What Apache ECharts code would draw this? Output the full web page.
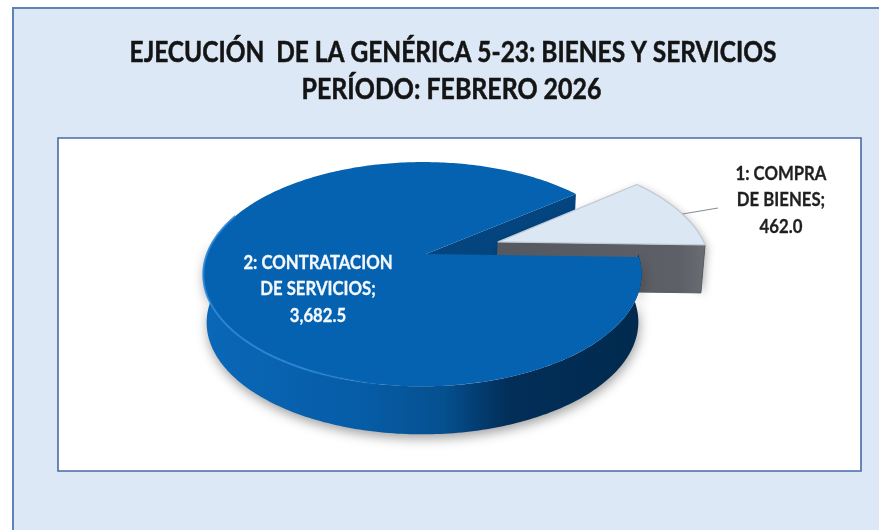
<!DOCTYPE html>
<html><head><meta charset="utf-8">
<style>html,body{margin:0;padding:0;background:#fff}#c{width:879px;height:530px}</style>
<script src="https://cdn.jsdelivr.net/npm/echarts@6/dist/echarts.min.js"></script>
</head><body><div id="c"></div>
<script>
const titleLines = ['EJECUCIÓN  DE LA GENÉRICA 5-23: BIENES Y SERVICIOS', 'PERÍODO: FEBRERO 2026'];
const categoryLines = [['1: COMPRA', 'DE BIENES;'], ['2: CONTRATACION', 'DE SERVICIOS;']];
const values = [462.0, 3682.5];

const total = values.reduce((a, b) => a + b, 0);
const START = 1.6 * Math.PI / 180;                 // blue slice starts here, clockwise
const blueSweep = values[1] / total * 2 * Math.PI;
const greySweep = values[0] / total * 2 * Math.PI;
const blueA = [START, START + blueSweep];
const greyA = [START - greySweep, START];
const greyMid = (greyA[0] + greyA[1]) / 2;
const EXPLODE = 0.362;
const ex = [EXPLODE * Math.cos(greyMid), EXPLODE * Math.sin(greyMid)];

// perspective projection of the unit disc on screen
const CX = 426, CY = 254, RX = 215.5, RY = 108.5, K = 0.18, M = -0.016, DEPTH = 48, SHRINK = 0.985;
function proj(u, v, low) {
  const w = 1 - K * v - M * u;
  const x = CX + RX * u / w, y = CY + RY * v / w;
  return low ? [CX + (x - CX) * SHRINK, y + DEPTH] : [x, y];
}
function arc(a0, a1, off, low) {
  const n = Math.max(8, Math.ceil(Math.abs(a1 - a0) * 60)), pts = [];
  for (let i = 0; i <= n; i++) {
    const a = a0 + (a1 - a0) * i / n;
    pts.push(proj(Math.cos(a) + off[0], Math.sin(a) + off[1], low));
  }
  return pts;
}
const NO = [0, 0];
function poly(points, style) { return { type: 'polygon', shape: { points }, style }; }
function grad(stops, x0, x1) {
  return new echarts.graphic.LinearGradient(x0, 0, x1, 0, stops.map(c => ({ offset: c[0], color: c[1] })), false);
}
function fmt(v) { return v.toLocaleString('en-US', { minimumFractionDigits: 1, maximumFractionDigits: 1 }); }
const FONT = 'bold 18px Lato';

function textLines(lines, x, y, fill) {
  return lines.map((t, i) => ({
    type: 'text', x, y: y + i * 26.5, scaleX: 0.93,
    style: { text: t, x: 0, y: 0, fill, font: FONT, align: 'center', verticalAlign: 'middle', stroke: fill, lineWidth: 0.3 }
  }));
}

function renderWall(p, api) {               // inner radial wall of the blue slice
  if (p.dataIndex !== 1) return null;
  const t = proj(0, 0), e = proj(Math.cos(blueA[1]), Math.sin(blueA[1]));
  const lb = proj(0, 0, true), le = proj(Math.cos(blueA[1]), Math.sin(blueA[1]), true);
  return poly([t, e, le, lb], { fill: '#04457f' });
}
function renderGrey(p, api) {
  if (p.dataIndex !== 0) return null;
  const top = arc(greyA[0], greyA[1], ex, false), low = arc(greyA[0], greyA[1], ex, true);
  const a = proj(ex[0], ex[1]), aL = proj(ex[0], ex[1], true);
  const kids = [];
  kids.push(poly([aL].concat(low).concat(top.slice().reverse()).concat([a]), {
    fill: '#5a5f65', shadowBlur: 9, shadowColor: 'rgba(0,0,0,0.32)', shadowOffsetX: 2, shadowOffsetY: 3
  }));
  const r = top[top.length - 1], rL = low[low.length - 1];
  kids.push(poly([a, r, rL, aL], { fill: grad([[0, '#55595f'], [0.88, '#5d6167'], [1, '#6a6e74']], 0, 1), stroke: '#5a5f65', lineWidth: 1, lineJoin: 'round' }));
  kids.push(poly([a].concat(top), { fill: '#dce7f4', stroke: '#c2cbd8', lineWidth: 1.2, lineJoin: 'round' }));
  // leader line
  const mid = proj(Math.cos(greyMid + 0.03) + ex[0], Math.sin(greyMid + 0.03) + ex[1]);
  kids.push({ type: 'line', shape: { x1: mid[0], y1: mid[1], x2: 718, y2: 208 }, style: { stroke: '#8a8d90', lineWidth: 1.2 } });
  kids.push.apply(kids, textLines(categoryLines[0].concat([fmt(values[0])]), 781, 174, '#1f1f1f'));
  return { type: 'group', children: kids };
}
function renderBlue(p, api) {
  if (p.dataIndex !== 1) return null;
  const top = arc(blueA[0], blueA[1], NO, false);
  const frontTop = arc(0, Math.PI + 0.12, NO, false), frontLow = arc(0, Math.PI + 0.12, NO, true);
  const kids = [];
  kids.push(poly(frontTop.concat(frontLow.slice().reverse()), {
    fill: grad([[0, '#0a68b8'], [0.38, '#065ba5'], [0.55, '#05508f'], [0.63, '#033c70'], [0.7, '#022e58'], [1, '#012a4e']], 0, 1),
    shadowBlur: 12, shadowColor: 'rgba(0,0,0,0.38)', shadowOffsetX: 1, shadowOffsetY: 4
  }));
  kids.push(poly([proj(0, 0)].concat(top), { fill: '#0562b1' }));
  kids.push({
    type: 'polyline', shape: { points: arc(Math.PI * 0.55, Math.PI * 1.12, NO, false) },
    style: { fill: 'none', stroke: grad([[0, 'rgba(45,135,215,0.9)'], [0.55, 'rgba(45,135,215,0.8)'], [1, 'rgba(45,135,215,0)']], 0, 1), lineWidth: 2 }
  });
  kids.push.apply(kids, textLines(categoryLines[1].concat([fmt(values[1])]), 318, 263, '#f4f8fc'));
  return { type: 'group', children: kids };
}
function renderTitle(p, api) {
  if (p.dataIndex !== 0) return null;
  const spec = [[453, 53, 0.874], [451.5, 90, 0.89]];
  return { type: 'group', children: titleLines.map((t, i) => ({
    type: 'text', x: spec[i][0], y: spec[i][1], scaleX: spec[i][2],
    style: { text: t, x: 0, y: 0, font: 'bold 28px Lato', fill: '#141414', stroke: '#141414', lineWidth: 0.5, align: 'center', verticalAlign: 'middle' }
  })) };
}
const layer = (name, z, fn) => ({ type: 'custom', name, coordinateSystem: 'none', silent: true, z, renderItem: fn, data: values });

const chart = echarts.init(document.getElementById('c'), null, { renderer: 'canvas' });
chart.setOption({
  animation: false,
  backgroundColor: '#ffffff',
  graphic: { elements: [
    { type: 'rect', z: -20, shape: { x: 13, y: 8, width: 900, height: 560 }, style: { fill: '#dce8f6', stroke: '#5f83b5', lineWidth: 2 } },
    { type: 'rect', z: -19, shape: { x: 58, y: 138, width: 803, height: 333 }, style: { fill: '#ffffff', stroke: '#4a6aa5', lineWidth: 1.6 } }
  ] },
  series: [layer('title', 5, renderTitle), layer('wall', 2, renderWall), layer('grey', 3, renderGrey), layer('blue', 4, renderBlue)]
});
</script></body></html>
